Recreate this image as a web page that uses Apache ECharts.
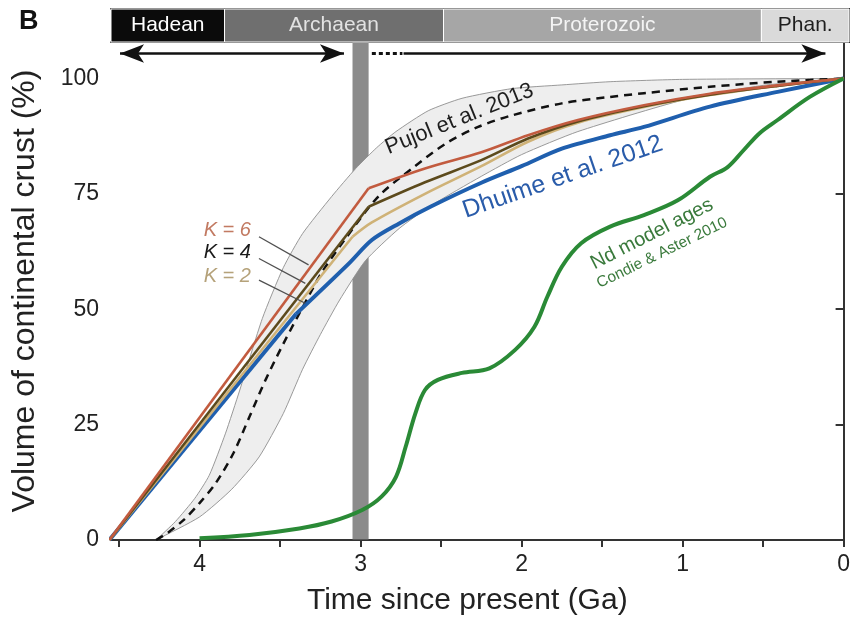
<!DOCTYPE html>
<html><head><meta charset="utf-8">
<script src="https://cdn.jsdelivr.net/npm/echarts@6/dist/echarts.min.js"></script>
<style>html,body{margin:0;padding:0;background:#fff}#c{width:853px;height:623px}</style>
</head><body><div id="c"></div>
<script>
// ---------- data (time in Ga, volume in %) ----------
const xTicks = [0, 0.5, 1, 1.5, 2, 2.5, 3, 3.5, 4, 4.5];
const xTickLabels = [0, 1, 2, 3, 4];
const yTickLabels = [0, 25, 50, 75, 100];
const eonNames = ['Hadean', 'Archaean', 'Proterozoic', 'Phan.'];
const eonBounds = [[4.55, 3.85], [3.85, 2.5], [2.5, 0.54], [0.54, 0]];
const greyBar = [3.05, 2.95];

const pujolUpper = [[4.27,0],[4.15,4],[4.03,9],[3.94,14],[3.84,23],[3.75,32.5],[3.61,48],[3.48,59],[3.36,66.4],[3.18,74.4],[3.03,80.5],[2.9,85],[2.78,88.5],[2.58,93],[2.37,95.7],[2.06,97.8],[1.75,98.6],[1.45,99.3],[1.0,99.8],[0,100]];
const pujolLower = [[4.27,0],[4.0,5],[3.8,11],[3.63,18],[3.48,27.4],[3.36,37],[3.25,44.5],[3.13,52],[2.97,60.5],[2.76,67.5],[2.56,72.5],[2.25,78.8],[2.0,83.5],[1.65,88.5],[1.0,95.3],[0.5,98.5],[0,100]];
const pujolMean = [[4.27,0],[4.2,1.5],[4.1,4.3],[4.0,8],[3.9,12.3],[3.79,18.8],[3.69,26.7],[3.59,34.7],[3.48,42.5],[3.32,53],[3.24,58],[3.1,65],[2.89,74.4],[2.68,80.5],[2.47,85.9],[2.27,89.5],[2.06,92],[1.75,94.6],[1.45,96],[1.24,96.8],[0.83,98.2],[0.41,99.3],[0,100]];
const dhuimeEarly = [[4.56,0],[3.4,49]];
const dhuimeLate = [[3.4,49],[3.07,60],[2.93,65],[2.76,68.6],[2.56,72.3],[2.25,77.4],[2.0,81],[1.75,84.8],[1.45,87.7],[1.24,89.5],[0.83,93.9],[0.41,97.1],[0,100]];
const k2Early = [[4.56,0],[3.05,65.7]];
const k2Late = [[3.05,65.7],[2.93,68.8],[2.6,75],[2.25,81],[1.96,86.3],[1.65,90.4],[1.24,93.8],[0.83,96.4],[0.41,98.4],[0,100]];
const k4Early = [[4.56,0],[2.95,72.2]];
const k4Late = [[2.95,72.2],[2.6,77.5],[2.25,82.3],[1.96,87],[1.65,90.7],[1.24,94],[0.83,96.5],[0.41,98.4],[0,100]];
const k6Early = [[4.56,0],[2.95,76.2]];
const k6Late = [[2.95,76.2],[2.6,80.5],[2.25,84],[1.96,87.7],[1.65,91],[1.24,94.2],[0.83,96.7],[0.41,98.5],[0,100]];
const ndModel = [[4.0,0.4],[3.69,1.1],[3.38,2.5],[3.18,4],[2.99,6.5],[2.87,9.4],[2.78,13.7],[2.72,20.2],[2.66,27.4],[2.6,32.5],[2.52,34.7],[2.37,36.2],[2.2,37.2],[2.04,41.2],[1.92,46.2],[1.84,52.7],[1.75,59.2],[1.63,64.3],[1.45,67.9],[1.24,70.4],[1.03,73.6],[0.83,78.7],[0.72,80.8],[0.62,84.5],[0.52,88.2],[0.41,91],[0.21,96],[0,100]];
// arrows at top: [start, end] in Ga, at height arrowLevel
const arrowLevel = 105.4;
const arrowLeft = [4.494, 3.103];
const arrowDotted = [2.93, 2.74];
const arrowRight = [2.733, 0.113];

// ---------- styles ----------
const FONT = "'Liberation Sans', Arial, sans-serif";
const eonStyle = [
  {fill:'#0b0b0b', text:'#ffffff'},
  {fill:'#6f6f6f', text:'#e2e2e2'},
  {fill:'#a6a6a6', text:'#f4f4f4'},
  {fill:'#dadada', text:'#1e1e1e'}
];
const AX = {color:'#333', width:2};
const C = {k6:'#c25b3f', k4:'#5c4a1c', k2:'#cfb277', blue:'#1f5fae', green:'#2a8a36'};

const chart = echarts.init(document.getElementById('c'), null, {renderer:'canvas'});

function lineSeries(data, color, width, extra) {
  return Object.assign({type:'line', data:data, symbol:'none', xAxisIndex:0, yAxisIndex:0,
    lineStyle:{color:color, width:width}, z:2, silent:true}, extra || {});
}

const option = {
  animation: false,
  backgroundColor: '#fff',
  title: {text:'B', left:14, top:3, textStyle:{fontSize:27, fontWeight:'bold', color:'#111', fontFamily:FONT}},
  grid: [
    {left:111, right:4, top:42, bottom:83},
    {left:111, right:4, top:9, height:33}
  ],
  xAxis: [
    {gridIndex:0, type:'value', inverse:true, min:0, max:4.55, interval:0.5,
      axisLine:{show:true, onZero:false, lineStyle:AX},
      axisTick:{show:true, length:7, customValues:xTicks, lineStyle:AX},
      axisLabel:{customValues:xTickLabels, fontSize:23, color:'#222', margin:13, fontFamily:FONT,
        formatter:v => (Number.isInteger(v) ? String(v) : '')},
      splitLine:{show:false},
      name:'Time since present (Ga)', nameLocation:'middle', nameGap:46,
      nameTextStyle:{fontSize:30, color:'#222', fontFamily:FONT, padding:[0,20,0,0]}},
    {gridIndex:1, type:'value', inverse:true, min:0, max:4.55, position:'bottom',
      axisLine:{show:true, onZero:false, lineStyle:AX}, axisTick:{show:false}, axisLabel:{show:false}, splitLine:{show:false}},
    {gridIndex:1, type:'value', inverse:true, min:0, max:4.55, position:'top',
      axisLine:{show:true, onZero:false, lineStyle:AX}, axisTick:{show:false}, axisLabel:{show:false}, splitLine:{show:false}}
  ],
  yAxis: [
    {gridIndex:0, type:'value', min:0, max:107.9, interval:25, position:'left',
      axisLine:{show:true, lineStyle:AX},
      axisTick:{show:true, length:8, customValues:yTickLabels, lineStyle:AX},
      axisLabel:{customValues:yTickLabels, fontSize:23, color:'#222', margin:12, fontFamily:FONT,
        formatter:v => (v % 25 === 0 && v <= 100 ? String(v) : '')},
      splitLine:{show:false},
      name:'Volume of continental crust (%)', nameLocation:'middle', nameGap:70,
      nameTextStyle:{fontSize:32, color:'#222', fontFamily:FONT}},
    {gridIndex:0, type:'value', min:0, max:107.9, position:'right',
      axisLine:{show:true, lineStyle:AX}, axisTick:{show:false}, axisLabel:{show:false}, splitLine:{show:false}},
    {gridIndex:1, type:'value', min:0, max:1, position:'left',
      axisLine:{show:true, lineStyle:AX}, axisTick:{show:false}, axisLabel:{show:false}, splitLine:{show:false}},
    {gridIndex:1, type:'value', min:0, max:1, position:'right',
      axisLine:{show:true, lineStyle:AX}, axisTick:{show:false}, axisLabel:{show:false}, splitLine:{show:false}}
  ],
  series: [
    // Pujol envelope
    {type:'custom', xAxisIndex:0, yAxisIndex:0, z:1, silent:true, clip:true,
      data:[[0,0]],
      renderItem:function(params, api){
        const pts = pujolUpper.map(p => api.coord(p))
          .concat(pujolLower.slice().reverse().map(p => api.coord(p)));
        return {type:'polygon', shape:{points:pts, smooth:0.2},
          style:{fill:'#eeeeee', stroke:'#8f8f8f', lineWidth:0.9}};
      }},
    lineSeries(pujolMean, '#111', 2.5, {smooth:0.3, lineStyle:{color:'#111', width:2.5, type:[8,6]}}),
    lineSeries(dhuimeEarly, C.blue, 4),
    lineSeries(dhuimeLate, C.blue, 4, {smooth:0.3}),
    lineSeries(k2Early, C.k2, 2.6),
    lineSeries(k2Late, C.k2, 2.6, {smooth:0.3}),
    lineSeries(k4Early, C.k4, 2.6),
    lineSeries(k4Late, C.k4, 2.6, {smooth:0.3}),
    lineSeries(k6Early, C.k6, 2.6),
    lineSeries(k6Late, C.k6, 2.6, {smooth:0.3}),
    lineSeries(ndModel, C.green, 4, {smooth:0.35}),
    // grey bar at ~3 Ga
    {type:'line', xAxisIndex:0, yAxisIndex:0, data:[], z:5, silent:true,
      markArea:{silent:true, itemStyle:{color:'rgba(100,100,100,0.75)'},
        data:[[{xAxis:greyBar[0]}, {xAxis:greyBar[1]}]]}},
    // arrows + leader lines
    {type:'line', xAxisIndex:0, yAxisIndex:0, data:[], z:6, silent:true,
      markLine:{silent:true, animation:false, label:{show:false}, symbol:['none','none'],
        lineStyle:{color:'#111', width:2.6, type:'solid'},
        data:[
          [{coord:[arrowLeft[0], arrowLevel], symbol:'arrow', symbolSize:[14,24]},
           {coord:[arrowLeft[1], arrowLevel], symbol:'arrow', symbolSize:[14,24]}],
          [{coord:[arrowDotted[0], arrowLevel], lineStyle:{type:[4,3], width:3}},
           {coord:[arrowDotted[1], arrowLevel]}],
          [{coord:[arrowRight[0], arrowLevel]},
           {coord:[arrowRight[1], arrowLevel], symbol:'arrow', symbolSize:[14,24]}],
          [{coord:[3.631,65.7], lineStyle:{color:'#505050', width:1.3}}, {coord:[3.323,59.6]}],
          [{coord:[3.631,61.0], lineStyle:{color:'#505050', width:1.3}}, {coord:[3.343,55.6]}],
          [{coord:[3.631,56.3], lineStyle:{color:'#505050', width:1.3}}, {coord:[3.343,51.3]}]
        ]}},
    // text annotations
    {type:'line', xAxisIndex:0, yAxisIndex:0, data:[], z:7, silent:true,
      markPoint:{silent:true, symbol:'circle', symbolSize:0, animation:false,
        label:{show:true, position:'inside', fontFamily:FONT},
        data:[
          {coord:[2.386,91.2], label:{formatter:'Pujol et al. 2013', rotate:22, fontSize:22, color:'#1e1e1e'}},
          {coord:[1.745,78.6], label:{formatter:'Dhuime et al. 2012', rotate:19, fontSize:25, color:'#2a5caa'}},
          {coord:[1.19,66.3], label:{formatter:'Nd model ages', rotate:27, fontSize:20, color:'#3a7a3c'}},
          {coord:[1.128,62.2], label:{formatter:'Condie & Aster 2010', rotate:26, fontSize:15.5, color:'#3a7a3c'}},
          {coord:[3.681,67.1], label:{formatter:'K = 6', position:'left', distance:0, fontSize:20, fontStyle:'italic', color:'#c27a62'}},
          {coord:[3.681,62.2], label:{formatter:'K = 4', position:'left', distance:0, fontSize:20, fontStyle:'italic', color:'#1a1a1a'}},
          {coord:[3.681,57.0], label:{formatter:'K = 2', position:'left', distance:0, fontSize:20, fontStyle:'italic', color:'#b5a27a'}}
        ]}},
    // eon band
    {type:'line', xAxisIndex:1, yAxisIndex:2, data:[], z:-1, silent:true,
      markArea:{silent:true,
        data: eonNames.map((n, i) => [
          {name:n, xAxis:eonBounds[i][0],
            itemStyle:{color:eonStyle[i].fill, borderColor:'#ffffff', borderWidth:1},
            label:{show:true, position:'inside', color:eonStyle[i].text, fontSize:21, fontFamily:FONT}},
          {xAxis:eonBounds[i][1]}
        ])}}
  ]
};
chart.setOption(option);
</script>
</body></html>
